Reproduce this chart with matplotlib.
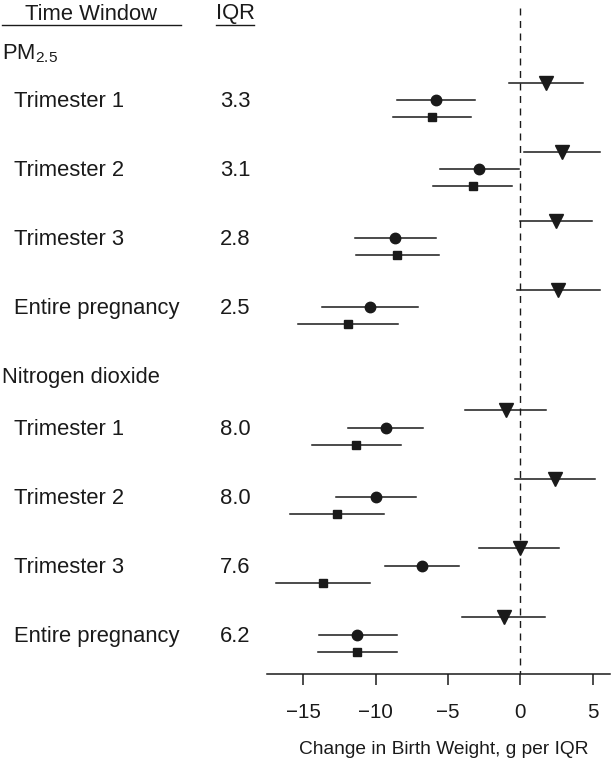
import matplotlib
matplotlib.use('Agg')
import matplotlib.pyplot as plt
import matplotlib.transforms as mtransforms
from matplotlib.lines import Line2D

plt.rcParams['font.family'] = ['Liberation Sans', 'DejaVu Sans']

# 데이터
pollutants = ['$\\mathregular{PM_{2.5}}$', 'Nitrogen dioxide']
windows = ['Trimester 1', 'Trimester 2', 'Trimester 3', 'Entire pregnancy']
iqr_pm = ['3.3', '3.1', '2.8', '2.5']
iqr_no2 = ['8.0', '8.0', '7.6', '6.2']

# 각 행: 삼각형 / 원 / 사각형 (추정값, 하한, 상한)
pm_tri = [1.8, 2.85, 2.45, 2.6]
pm_tri_lo = [-0.8, 0.25, 0.0, -0.2]
pm_tri_hi = [4.35, 5.5, 4.95, 5.5]
pm_cir = [-5.85, -2.85, -8.65, -10.4]
pm_cir_lo = [-8.55, -5.55, -11.45, -13.7]
pm_cir_hi = [-3.15, -0.1, -5.8, -7.1]
pm_sq = [-6.1, -3.3, -8.5, -11.9]
pm_sq_lo = [-8.8, -6.05, -11.35, -15.35]
pm_sq_hi = [-3.4, -0.55, -5.6, -8.45]

no2_tri = [-1.0, 2.4, -0.05, -1.15]
no2_tri_lo = [-3.85, -0.35, -2.85, -4.0]
no2_tri_hi = [1.75, 5.15, 2.65, 1.7]
no2_cir = [-9.3, -10.0, -6.8, -11.25]
no2_cir_lo = [-11.9, -12.75, -9.35, -13.9]
no2_cir_hi = [-6.7, -7.2, -4.25, -8.55]
no2_sq = [-11.35, -12.65, -13.65, -11.25]
no2_sq_lo = [-14.4, -15.9, -16.9, -13.95]
no2_sq_hi = [-8.25, -9.4, -10.4, -8.55]

W, H = 614, 763
fig = plt.figure(figsize=(W / 100, H / 100), dpi=100)
ax = fig.add_axes([267 / W, 89 / H, (610 - 267) / W, 674 / H])

col = '#1a1a1a'
groups = [
    (0, [(pm_tri, pm_tri_lo, pm_tri_hi), (pm_cir, pm_cir_lo, pm_cir_hi), (pm_sq, pm_sq_lo, pm_sq_hi)]),
    (19, [(no2_tri, no2_tri_lo, no2_tri_hi), (no2_cir, no2_cir_lo, no2_cir_hi), (no2_sq, no2_sq_lo, no2_sq_hi)]),
]
markers = [('v', 9.5), ('o', 7.5), ('s', 5.5)]
for start, series in groups:
    for k, (est, lo, hi) in enumerate(series):
        for i in range(len(windows)):
            y = start + 4 * i + k
            ax.plot([lo[i], hi[i]], [y, y], color=col, lw=1.1, zorder=2)
            ax.plot(est[i], y, marker=markers[k][0], ms=markers[k][1], color=col,
                    mec=col, zorder=3, ls='none')

ax.plot([0, 0], [-4.3, 34.28], ls=(0, (5, 4)), color=col, lw=1, zorder=1)

ax.set_xlim(-17.5, 6.2)
ax.set_ylim(34.28, -4.79)
for s in ['top', 'left', 'right']:
    ax.spines[s].set_visible(False)
ax.spines['bottom'].set_linewidth(1.1)
ax.spines['bottom'].set_color(col)
ax.set_yticks([])
ax.set_xticks([-15, -10, -5, 0, 5])
ax.set_xticklabels(['\u221215', '\u221210', '\u22125', '0', '5'])
ax.tick_params(axis='x', length=8, width=1.1, color=col, labelsize=14.8, pad=13, labelcolor=col)
fig.text(443.5 / W, 1 - 750 / H, 'Change in Birth Weight, g per IQR', fontsize=13.8,
         ha='center', va='center', color=col)

# 왼쪽 표
tr = mtransforms.blended_transform_factory(fig.transFigure, ax.transData)
fs = 15.8
fig.text(91 / W, 1 - 14 / H, 'Time Window', fontsize=fs, ha='center', va='center', color=col)
fig.text(235 / W, 1 - 14 / H, 'IQR', fontsize=fs, ha='center', va='center', color=col)
fig.add_artist(Line2D([2 / W, 181 / W], [1 - 25 / H, 1 - 25 / H], color=col, lw=1))
fig.add_artist(Line2D([216 / W, 254 / W], [1 - 25 / H, 1 - 25 / H], color=col, lw=1))

headers_y = [-1.7, 17.1]
iqrs = [iqr_pm, iqr_no2]
for g, (start, _) in enumerate(groups):
    ax.text(2 / W, headers_y[g], pollutants[g], transform=tr, fontsize=fs,
            ha='left', va='center', color=col)
    for i, w in enumerate(windows):
        y = start + 4 * i + 1.12
        ax.text(14 / W, y, w, transform=tr, fontsize=fs, ha='left', va='center', color=col)
        ax.text(220 / W, y, iqrs[g][i], transform=tr, fontsize=fs, ha='left', va='center', color=col)

fig.savefig('out.png', dpi=100)
